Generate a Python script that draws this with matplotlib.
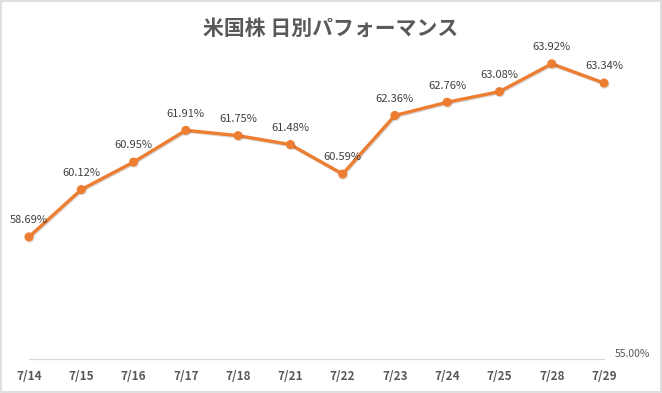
import matplotlib
matplotlib.use("Agg")
import matplotlib.pyplot as plt
import matplotlib.patheffects as pe
from matplotlib.patches import Rectangle

plt.rcParams["font.family"] = ["Noto Sans CJK JP", "DejaVu Sans"]

title = "米国株 日別パフォーマンス"
dates = ["7/14", "7/15", "7/16", "7/17", "7/18", "7/21",
         "7/22", "7/23", "7/24", "7/25", "7/28", "7/29"]
values = [58.69, 60.12, 60.95, 61.91, 61.75, 61.48,
          60.59, 62.36, 62.76, 63.08, 63.92, 63.34]
y_min, y_max = 55, 65

fig = plt.figure(figsize=(6.62, 3.93), dpi=100)
ax = fig.add_axes([0.0438, 0.0865, 0.8686, 0.842])

xs = list(range(len(dates)))
ax.plot(xs, values, color="#ED7D31", lw=2.4, marker="o", ms=5.5,
        solid_capstyle="round", solid_joinstyle="round", clip_on=False,
        path_effects=[pe.SimpleLineShadow(offset=(0.6, -0.8), shadow_color="black", alpha=0.15),
                      pe.Normal()])

for x, v in zip(xs, values):
    ax.annotate(f"{v:.2f}%", (x, v), xytext=(0, 12), textcoords="offset points",
                ha="center", va="center", fontsize=8, color="#404040")

ax.set_xlim(0, len(dates) - 1)
ax.set_ylim(y_min, y_max)
ax.set_xticks(xs)
ax.set_xticklabels(dates, fontsize=8.5, fontweight="bold", color="#595959")
ax.tick_params(axis="x", length=0, pad=8)

ax.yaxis.tick_right()
ax.set_yticks([y_min])
ax.set_yticklabels([f"{y_min:.2f}%"], fontsize=7.5, color="#595959", va="bottom")
ax.tick_params(axis="y", length=0, pad=8)

for s in ["top", "left", "right"]:
    ax.spines[s].set_visible(False)
ax.spines["bottom"].set_color("#d9d9d9")
ax.spines["bottom"].set_linewidth(0.9)

fig.text(0.5, 0.928, title, ha="center", va="center", fontsize=15,
         color="#595959", fontweight="bold")

fig.patches.append(Rectangle((0.0015, 0.0025), 0.997, 0.995, transform=fig.transFigure,
                             fill=False, edgecolor="#d9d9d9", lw=1.2))

fig.savefig("out.png", dpi=100)
